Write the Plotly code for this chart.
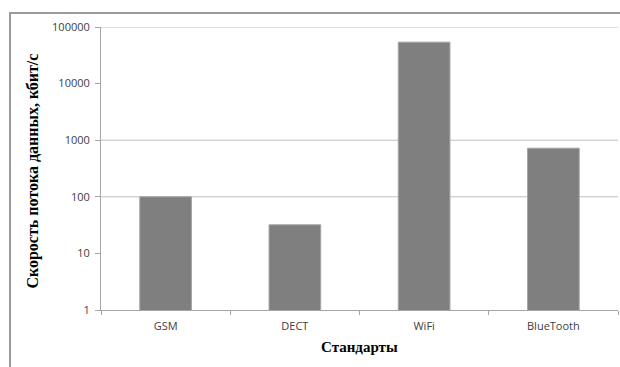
import plotly.graph_objects as go

# Data rates of wireless standards, kbit/s
standards = ["GSM", "DECT", "WiFi", "BlueTooth"]
rates_kbps = [100, 32, 54000, 723]

# Log axis ticks and the decades that carry a grid line
tick_values = [1, 10, 100, 1000, 10000, 100000]
tick_labels = ["1", "10", "100", "1000", "10000", "100000"]
grid_levels = [100, 1000, 100000]

tick_font = dict(family="Open Sans, sans-serif", size=11, color="#404040")
serif = "Liberation Serif, Times New Roman, serif"

fig = go.Figure()
fig.add_trace(go.Bar(
    x=standards,
    y=rates_kbps,
    marker=dict(color="#7f7f7f", line=dict(color="#a6a6a6", width=1)),
    width=0.4,
))

shapes = [
    # outer chart frame
    dict(type="rect", xref="paper", yref="paper",
         x0=-0.176, x1=1.05, y0=-0.35, y1=1.0495,
         line=dict(color="#9a9a9a", width=2), fillcolor="rgba(0,0,0,0)", layer="below"),
]
for g in grid_levels:
    shapes.append(dict(type="line", xref="paper", yref="y",
                       x0=0, x1=1, y0=g, y1=g,
                       line=dict(color="#bfbfbf", width=1), layer="below"))

fig.update_layout(
    width=620, height=367,
    margin=dict(l=101, r=2, t=27, b=57),
    paper_bgcolor="white", plot_bgcolor="white",
    showlegend=False,
    shapes=shapes,
    xaxis=dict(
        type="category",
        showline=True, linecolor="#a6a6a6", linewidth=1,
        ticks="outside", tickson="boundaries", ticklen=4, tickcolor="#a6a6a6",
        tickfont=tick_font, ticklabelstandoff=6, showgrid=False,
    ),
    yaxis=dict(
        type="log", range=[0, 5],
        tickvals=tick_values, ticktext=tick_labels,
        showline=True, linecolor="#a6a6a6", linewidth=1,
        ticks="outside", ticklen=5, tickcolor="#a6a6a6",
        tickfont=tick_font, ticklabelstandoff=3, showgrid=False, zeroline=False,
    ),
    annotations=[
        dict(text="<b>Скорость потока данных, кбит/с</b>", textangle=-90,
             xref="paper", yref="paper", x=-0.131, y=0.49,
             xanchor="center", yanchor="middle", showarrow=False,
             font=dict(family=serif, size=16, color="#000000")),
        dict(text="<b>Стандарты</b>",
             xref="paper", yref="paper", x=0.5, y=-0.132,
             xanchor="center", yanchor="middle", showarrow=False,
             font=dict(family=serif, size=15, color="#000000")),
    ],
)

fig.write_html("out.html")
